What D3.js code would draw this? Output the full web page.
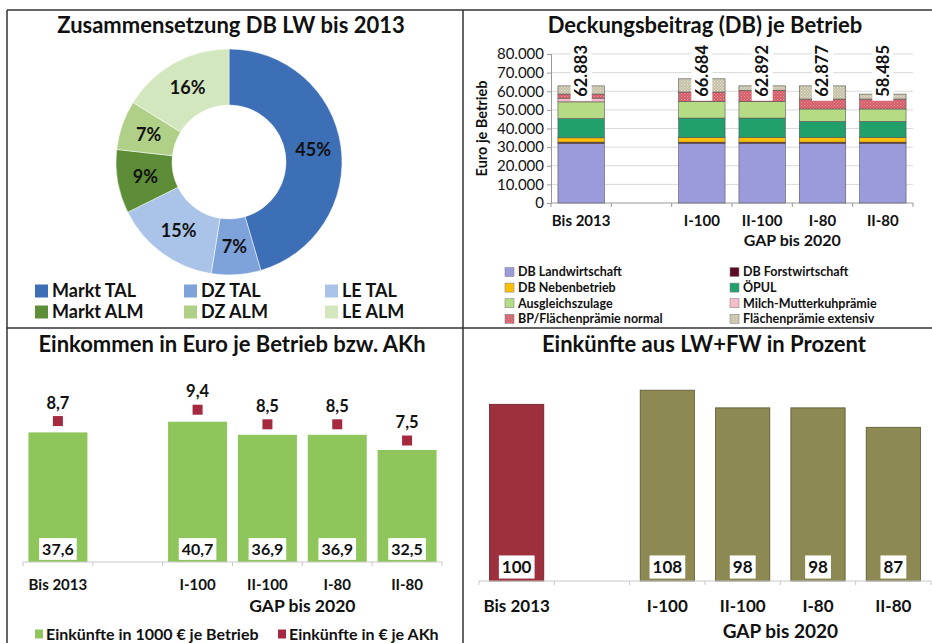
<!DOCTYPE html>
<html>
<head>
<meta charset="utf-8">
<script src="https://cdn.jsdelivr.net/npm/d3@7"></script>
<style>
body { margin: 0; background: #fff; }
svg { display: block; font-family: Lato, "Open Sans", sans-serif; }
text { fill: #111; }
</style>
</head>
<body>
<svg id="chart" width="932" height="643"></svg>
<script>
// --- donut: Zusammensetzung DB LW bis 2013
const donutLabels = ["Markt TAL", "DZ TAL", "LE TAL", "Markt ALM", "DZ ALM", "LE ALM"]
const donutValues = [45, 7, 15, 9, 7, 16]
const donutColors = ["#3d6fb6", "#7ea3db", "#a9c4e8", "#5d8d36", "#b0d088", "#d3e7bf"]

// --- shared categories
const scenarios = ["Bis 2013", "I-100", "II-100", "I-80", "II-80"]
const slots = [scenarios[0], "", ...scenarios.slice(1)]

// --- Deckungsbeitrag je Betrieb (Euro)
const dbKeys = ["DB Landwirtschaft", "DB Forstwirtschaft", "DB Nebenbetrieb", "ÖPUL",
    "Ausgleichszulage", "Milch-Mutterkuhprämie", "BP/Flächenprämie normal", "Flächenprämie extensiv"]
const dbLandwirtschaft = [32000, 32000, 32000, 32000, 32000]
const dbForstwirtschaft = [700, 700, 700, 700, 700]
const dbNebenbetrieb = [2300, 2500, 2500, 2500, 2500]
const oepul = [10300, 10400, 10400, 8600, 8600]
const ausgleichszulage = [9000, 8900, 8900, 6700, 6700]
const milchMutterkuh = [2000, 0, 0, 0, 0]
const bpNormal = [2200, 5100, 6000, 5300, 5300]
const flaecheExtensiv = [4383, 7084, 2392, 7077, 2685]
const dbTotals = [62883, 66684, 62892, 62877, 58485]

// --- Einkommen je Betrieb bzw. AKh
const einkBetrieb = [37.6, 40.7, 36.9, 36.9, 32.5]   // 1000 € je Betrieb
const einkAKh = [8.7, 9.4, 8.5, 8.5, 7.5]             // € je AKh

// --- Einkünfte aus LW+FW in Prozent
const einkProzent = [100, 108, 98, 98, 87]

const svg = d3.select("#chart")
const loc = d3.formatLocale({decimal: ",", thousands: ".", grouping: [3], currency: ["", " €"]})
const fmtThousand = loc.format(",.0f")
const fmtOne = loc.format(".1f")

// patterns for the dotted segments
const defs = svg.append("defs")
const addDots = (id, base, dot) => {
    const p = defs.append("pattern").attr("id", id).attr("width", 3).attr("height", 3)
        .attr("patternUnits", "userSpaceOnUse")
    p.append("rect").attr("width", 3).attr("height", 3).attr("fill", base)
    p.append("rect").attr("x", 0).attr("y", 0).attr("width", 1).attr("height", 1).attr("fill", dot)
    p.append("rect").attr("x", 1.5).attr("y", 1.5).attr("width", 1).attr("height", 1).attr("fill", dot)
}
addDots("dotsRed", "#d45d69", "#e8959c")
addDots("dotsGrey", "#c6c2a8", "#e2e0d2")
const dbColors = ["#9b9bdb", "#5c0a25", "#ffc000", "#22a06c", "#b5dc84", "#f6bccb", "url(#dotsRed)", "url(#dotsGrey)"]

// frame
const frame = svg.append("g").attr("stroke", "#333").attr("stroke-width", 1.5)
frame.append("line").attr("x1", 7).attr("x2", 932).attr("y1", 10).attr("y2", 10)
frame.append("line").attr("x1", 7).attr("x2", 7).attr("y1", 10).attr("y2", 643)
frame.append("line").attr("x1", 463).attr("x2", 463).attr("y1", 10).attr("y2", 643)
frame.append("line").attr("x1", 7).attr("x2", 932).attr("y1", 328).attr("y2", 328)

const title = (x, y, txt) => svg.append("text").attr("x", x).attr("y", y)
    .attr("text-anchor", "middle").attr("font-size", 22).attr("font-weight", "bold").text(txt)

// boundary ticks + baseline for a band scale
const bandAxis = (x, y, color) => {
    const g = svg.append("g").attr("stroke", color)
    const [r0, r1] = x.range()
    g.append("line").attr("x1", r0).attr("x2", r1).attr("y1", y).attr("y2", y)
    g.selectAll("line.tk").data(d3.range(slots.length + 1)).join("line").attr("class", "tk")
        .attr("x1", i => r0 + i * x.step()).attr("x2", i => r0 + i * x.step())
        .attr("y1", y).attr("y2", y + 4)
}
const catLabels = (x, y, yGap, size, gapSize) => {
    svg.append("g").selectAll("text").data(scenarios).join("text")
        .attr("x", d => x(d) + x.bandwidth() / 2).attr("y", y)
        .attr("text-anchor", "middle").attr("font-size", size).attr("font-weight", "bold").text(d => d)
    const gx0 = x(scenarios[1]) - x.step() * x.paddingInner() / 2
    const gx1 = x.range()[1]
    svg.append("text").attr("x", (gx0 + gx1) / 2).attr("y", yGap).attr("text-anchor", "middle")
        .attr("font-size", gapSize).attr("font-weight", "bold").text("GAP bis 2020")
}
const boxLabel = (g, cx, cy, txt, size) => {
    const t = g.append("text").attr("x", cx).attr("y", cy).attr("dy", "0.35em")
        .attr("text-anchor", "middle").attr("font-size", size).attr("font-weight", "bold").text(txt)
    const b = t.node().getBBox()
    g.insert("rect", () => t.node()).attr("x", b.x - 3).attr("y", cy - size * 0.68)
        .attr("width", b.width + 6).attr("height", size * 1.36).attr("fill", "#fff")
}

// ---------------- Panel 1: donut
title(231, 33, "Zusammensetzung DB LW bis 2013")
const pie = d3.pie().sort(null).value(d => d)
const arc = d3.arc().innerRadius(57).outerRadius(113)
const labelArc = d3.arc().innerRadius(85).outerRadius(85)
const donut = svg.append("g").attr("transform", "translate(229,162)")
donut.selectAll("path").data(pie(donutValues)).join("path")
    .attr("d", arc).attr("fill", (d, i) => donutColors[i]).attr("stroke", "#fff").attr("stroke-width", 0.5)
donut.selectAll("text").data(pie(donutValues)).join("text")
    .attr("transform", d => `translate(${labelArc.centroid(d)})`).attr("dy", "0.35em")
    .attr("text-anchor", "middle").attr("font-size", 18).attr("font-weight", "bold")
    .text(d => d.data + "%")
const donutLegend = svg.append("g").selectAll("g").data(donutLabels).join("g")
    .attr("transform", (d, i) => `translate(${[35, 184, 325][i % 3]},${i < 3 ? 291 : 312})`)
donutLegend.append("rect").attr("y", -6.5).attr("width", 13).attr("height", 13)
    .attr("fill", (d, i) => donutColors[i])
donutLegend.append("text").attr("x", 17).attr("dy", "0.35em").attr("font-size", 18)
    .attr("font-weight", "bold").text(d => d)

// ---------------- Panel 2: stacked DB
title(705, 33, "Deckungsbeitrag (DB) je Betrieb")
const x2 = d3.scaleBand().domain(slots).range([551, 913]).paddingInner(0.23).paddingOuter(0.115)
const y2 = d3.scaleLinear().domain([0, 80000]).range([203, 54])
const yTicks2 = d3.range(0, 80001, 10000)
svg.append("g").attr("stroke", "#d9d9d9").selectAll("line").data(yTicks2.slice(1)).join("line")
    .attr("x1", 551).attr("x2", 913).attr("y1", d => y2(d)).attr("y2", d => y2(d))
const ax2 = svg.append("g").attr("transform", "translate(551,0)")
    .call(d3.axisLeft(y2).tickValues(yTicks2).tickSize(4).tickFormat(fmtThousand))
ax2.selectAll("path,line").attr("stroke", "#999")
ax2.selectAll("text").attr("font-size", 15).attr("fill", "#111").attr("font-family", "Lato, sans-serif")
svg.append("text").attr("transform", `translate(487,${(y2(0) + y2(80000)) / 2}) rotate(-90)`)
    .attr("text-anchor", "middle").attr("font-size", 14.5).attr("font-weight", "bold").text("Euro je Betrieb")
bandAxis(x2, y2(0), "#999")

const dbSeries = [dbLandwirtschaft, dbForstwirtschaft, dbNebenbetrieb, oepul,
    ausgleichszulage, milchMutterkuh, bpNormal, flaecheExtensiv]
const dbTable = scenarios.map((s, i) => {
    const row = {scenario: s}
    dbKeys.forEach((k, j) => row[k] = dbSeries[j][i])
    return row
})
const stacked = d3.stack().keys(dbKeys)(dbTable)
svg.append("g").selectAll("g").data(stacked).join("g")
    .attr("fill", (d, i) => dbColors[i])
    .selectAll("rect").data(d => d.filter(p => p[1] > p[0])).join("rect")
    .attr("x", d => x2(d.data.scenario)).attr("width", x2.bandwidth())
    .attr("y", d => y2(d[1])).attr("height", d => y2(d[0]) - y2(d[1]))
    .attr("stroke", "#555").attr("stroke-width", 0.6)
const totG = svg.append("g")
scenarios.forEach((s, i) => {
    const g = totG.append("g")
        .attr("transform", `translate(${x2(s) + x2.bandwidth() / 2},${y2(80000) - 9}) rotate(-90)`)
    const t = g.append("text").attr("text-anchor", "end").attr("dy", "0.35em")
        .attr("font-size", 16.5).attr("font-weight", "bold").text(fmtThousand(dbTotals[i]))
    const b = t.node().getBBox()
    g.insert("rect", () => t.node()).attr("x", b.x - 4).attr("y", -10.5)
        .attr("width", b.width + 6).attr("height", 21).attr("fill", "#fff")
})
catLabels(x2, 226, 246, 15, 16)
const dbLegend = svg.append("g").selectAll("g").data(dbKeys).join("g")
    .attr("transform", (d, i) => `translate(${i % 2 ? 730 : 505},${272 + Math.floor(i / 2) * 15.6})`)
dbLegend.append("rect").attr("y", -4.5).attr("width", 9).attr("height", 9)
    .attr("fill", (d, i) => dbColors[i]).attr("stroke", "#888").attr("stroke-width", 0.6)
dbLegend.append("text").attr("x", 13).attr("dy", "0.35em").attr("font-size", 12.5)
    .attr("font-weight", "bold").text(d => d)

// ---------------- Panel 3: Einkommen
title(232, 352, "Einkommen in Euro je Betrieb bzw. AKh")
const x3 = d3.scaleBand().domain(slots).range([23, 442]).paddingInner(0.155).paddingOuter(0.0775)
const y3 = d3.scaleLinear().domain([0, 47]).range([562, 400])
const y3b = d3.scaleLinear().domain([0, 10]).range([562, 400])
svg.append("g").selectAll("rect").data(scenarios).join("rect")
    .attr("x", d => x3(d)).attr("width", x3.bandwidth())
    .attr("y", (d, i) => y3(einkBetrieb[i])).attr("height", (d, i) => y3(0) - y3(einkBetrieb[i]))
    .attr("fill", "#8fc65b")
bandAxis(x3, y3(0), "#c8c8c8")
const lab3 = svg.append("g")
scenarios.forEach((s, i) => boxLabel(lab3, x3(s) + x3.bandwidth() / 2, y3(0) - 13, fmtOne(einkBetrieb[i]), 16))
svg.append("g").selectAll("rect").data(scenarios).join("rect")
    .attr("x", d => x3(d) + x3.bandwidth() / 2 - 5).attr("y", (d, i) => y3b(einkAKh[i]) - 5)
    .attr("width", 10).attr("height", 10).attr("fill", "#a52a3f")
svg.append("g").selectAll("text").data(scenarios).join("text")
    .attr("x", d => x3(d) + x3.bandwidth() / 2).attr("y", (d, i) => y3b(einkAKh[i]) - 18)
    .attr("dy", "0.35em").attr("text-anchor", "middle").attr("font-size", 16.5).attr("font-weight", "bold")
    .text((d, i) => fmtOne(einkAKh[i]))
catLabels(x3, 590, 612, 15, 17.5)
const leg3 = [["Einkünfte in 1000 € je Betrieb", "#8fc65b", 35], ["Einkünfte in € je AKh", "#a52a3f", 278]]
const leg3g = svg.append("g").selectAll("g").data(leg3).join("g")
    .attr("transform", d => `translate(${d[2]},634)`)
leg3g.append("rect").attr("y", -4.5).attr("width", 8).attr("height", 9).attr("fill", d => d[1])
leg3g.append("text").attr("x", 11).attr("dy", "0.35em").attr("font-size", 16)
    .attr("font-weight", "bold").text(d => d[0])

// ---------------- Panel 4: Prozent
title(704, 352, "Einkünfte aus LW+FW in Prozent")
const x4 = d3.scaleBand().domain(slots).range([479, 931]).paddingInner(0.28).paddingOuter(0.14)
const y4 = d3.scaleLinear().domain([0, 120]).range([581, 369])
svg.append("g").selectAll("rect").data(scenarios).join("rect")
    .attr("x", d => x4(d)).attr("width", x4.bandwidth())
    .attr("y", (d, i) => y4(einkProzent[i])).attr("height", (d, i) => y4(0) - y4(einkProzent[i]))
    .attr("fill", (d, i) => i === 0 ? "#9e2f3c" : "#8c8a52")
    .attr("stroke", (d, i) => i === 0 ? "#6e1c26" : "#555530").attr("stroke-width", 0.8)
bandAxis(x4, y4(0), "#c8c8c8")
const lab4 = svg.append("g")
scenarios.forEach((s, i) => boxLabel(lab4, x4(s) + x4.bandwidth() / 2, y4(0) - 14, einkProzent[i], 17))
catLabels(x4, 612, 638, 17, 19)
</script>
</body>
</html>
